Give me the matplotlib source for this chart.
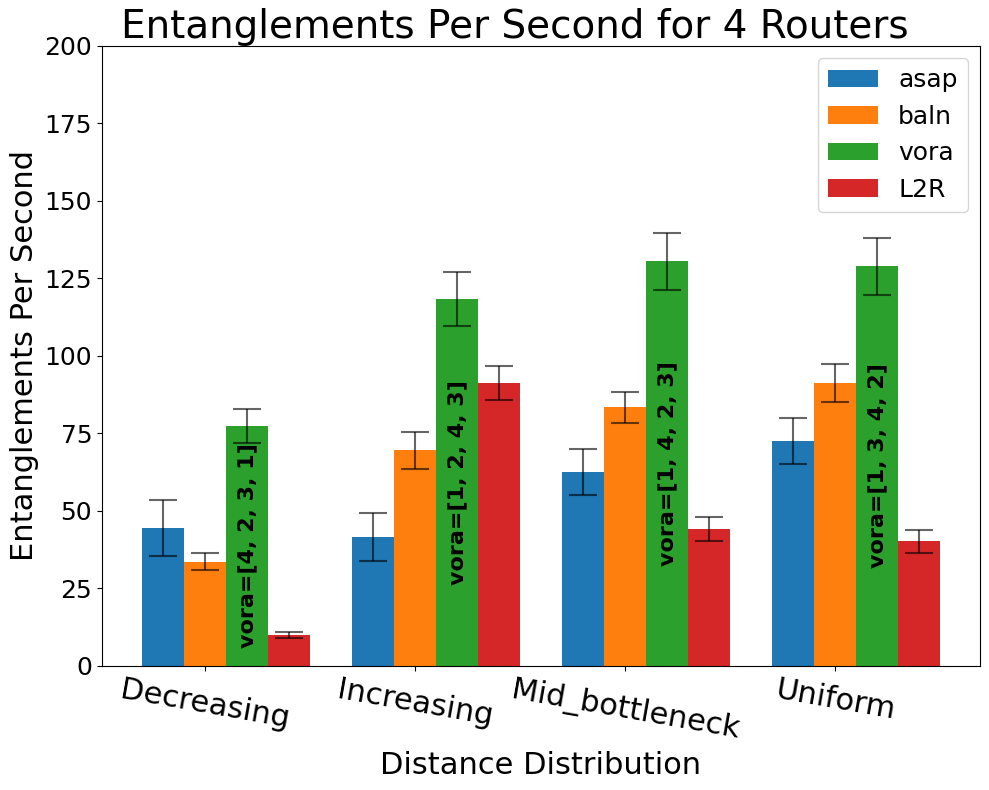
import numpy as np
import matplotlib
matplotlib.use("Agg")
import matplotlib.pyplot as plt

# dados
distribuicoes = ["Decreasing", "Increasing", "Mid_bottleneck", "Uniform"]
metodos = ["asap", "baln", "vora", "L2R"]

asap = [44.6, 41.6, 62.6, 72.6]
asap_err = [9.0, 7.7, 7.4, 7.3]
baln = [33.6, 69.6, 83.5, 91.3]
baln_err = [2.7, 6.0, 5.0, 6.1]
vora = [77.4, 118.4, 130.6, 129.0]
vora_err = [5.4, 8.7, 9.2, 9.2]
l2r = [10.0, 91.3, 44.2, 40.2]
l2r_err = [1.0, 5.6, 4.0, 3.7]

vora_ordem = ["[4, 2, 3, 1]", "[1, 2, 4, 3]", "[1, 4, 2, 3]", "[1, 3, 4, 2]"]

valores = [asap, baln, vora, l2r]
erros = [asap_err, baln_err, vora_err, l2r_err]
cores = ["#1f77b4", "#ff7f0e", "#2ca02c", "#d62728"]

fig, ax = plt.subplots(figsize=(9.89, 7.9), dpi=100)
fig.subplots_adjust(left=0.1031, right=0.9909, top=0.9418, bottom=0.157)

x = np.arange(len(distribuicoes))
largura = 0.2

for i, (nome, v, e) in enumerate(zip(metodos, valores, erros)):
    ax.bar(x + (i - 1) * largura, v, largura, yerr=e, label=nome, color=cores[i],
           capsize=10, error_kw={"ecolor": "black", "alpha": 0.6, "elinewidth": 1.5,
                                 "capthick": 1.5})

# texto da ordem do vora dentro da barra verde
for j in range(len(distribuicoes)):
    ax.text(x[j] + largura, vora[j] / 2, "vora=" + vora_ordem[j], rotation=90,
            ha="center", va="center", fontsize=16, fontweight="bold", color="black")

ax.set_title("Entanglements Per Second for 4 Routers", fontsize=28, x=0.47)
ax.set_xlabel("Distance Distribution", fontsize=22)
ax.set_ylabel("Entanglements Per Second", fontsize=22)
ax.set_xticks(x)
ax.set_xticklabels(distribuicoes, rotation=-10, fontsize=22, ha="center")
ax.tick_params(axis="y", labelsize=18)
ax.set_ylim(0, 200)
ax.legend(loc="upper right", fontsize=18)

plt.savefig("out.png")
